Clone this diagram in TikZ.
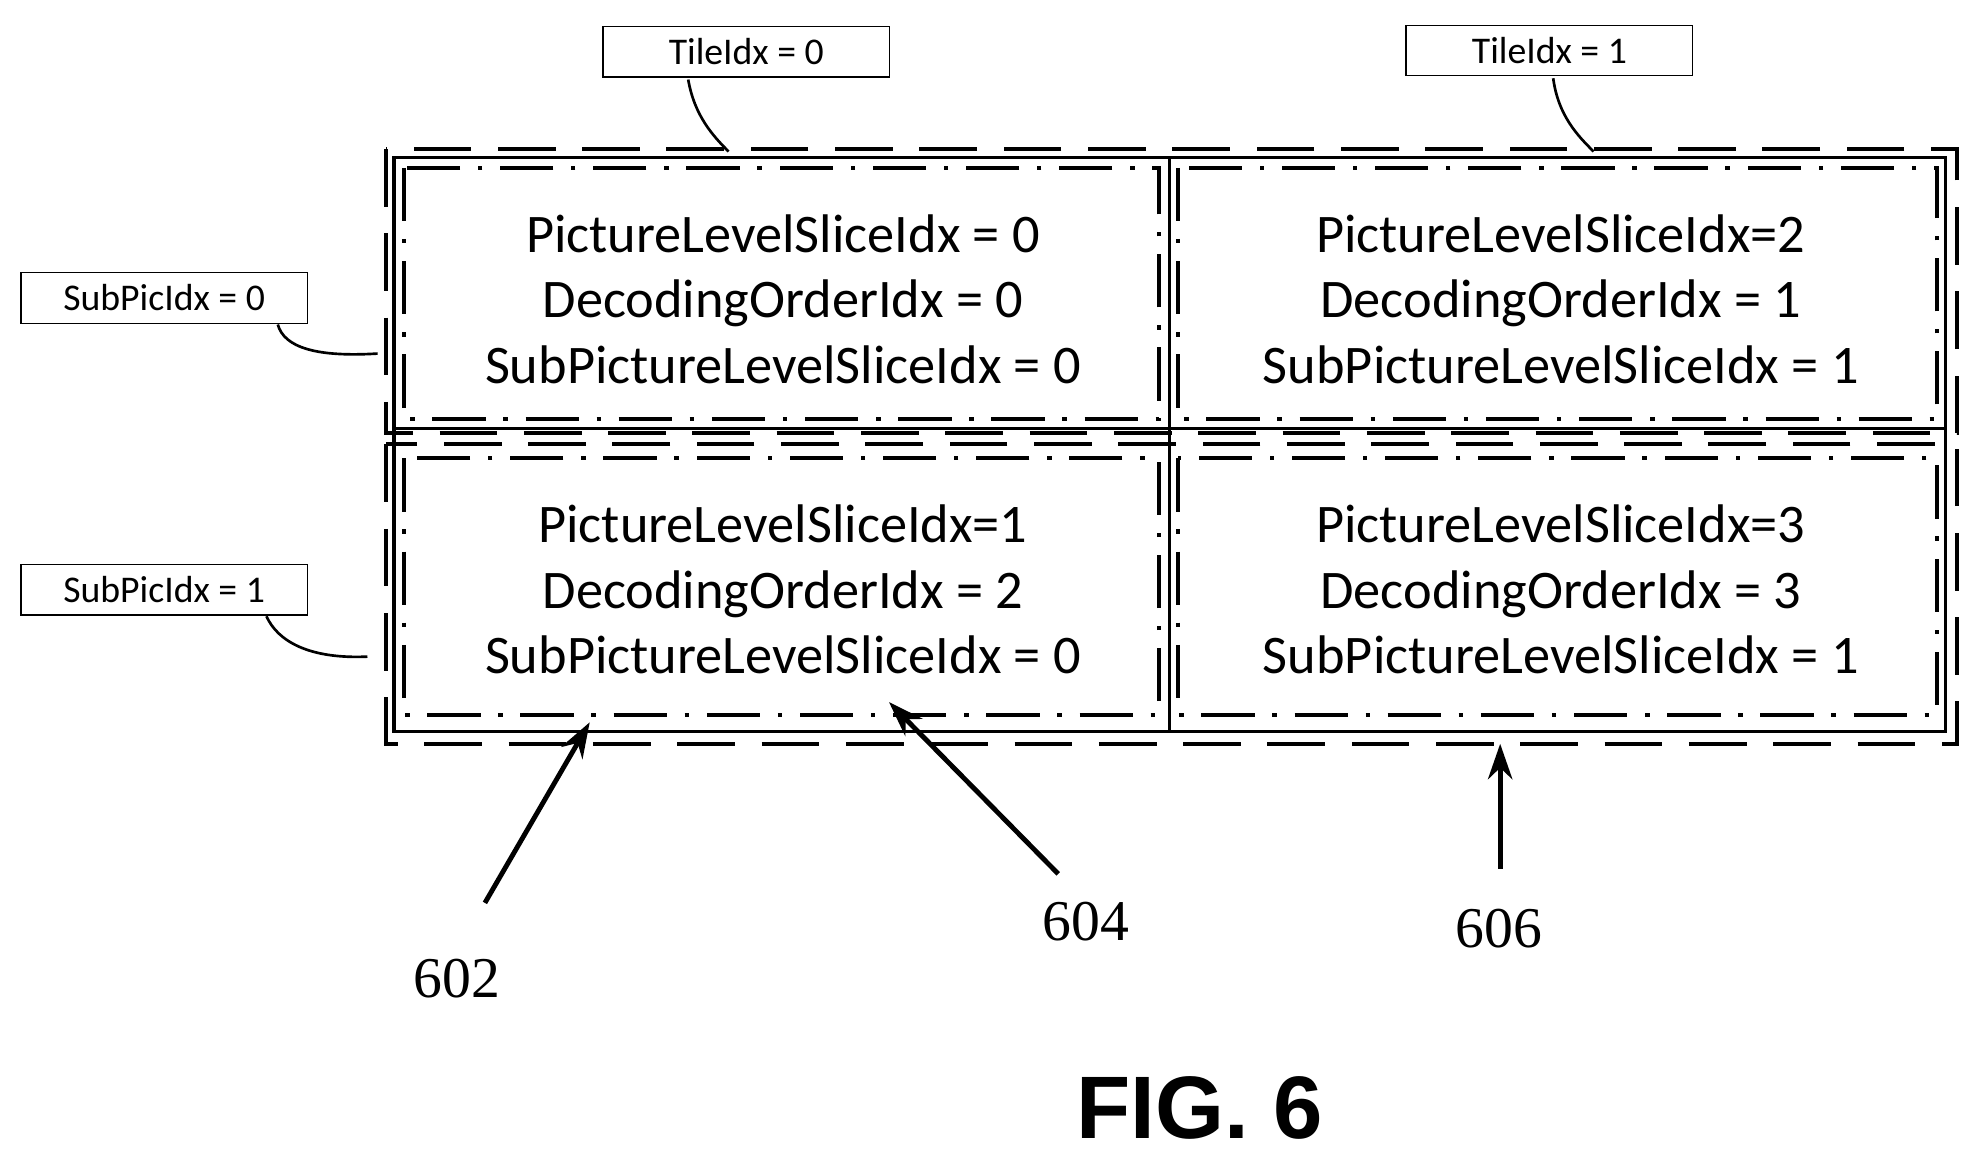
\documentclass[tikz,border=0pt]{standalone}
\usetikzlibrary{arrows.meta}
\usepackage{fontspec}
\setmainfont{Carlito}
\newfontfamily\numfont{Liberation Serif}
\newfontfamily\figfont{Liberation Sans}
\begin{document}
\begin{tikzpicture}[x=0.02cm,y=-0.02cm,
  sp/.style={line width=1.8pt,dash pattern=on 26pt off 12pt},
  sl/.style={line width=1.8pt,dash pattern=on 24pt off 8pt on 2pt off 8pt},
  tl/.style={line width=1.4pt},
  lbl/.style={draw,line width=0.6pt,minimum width=227*0.02cm,minimum height=40*0.02cm,font=\fontsize{17}{20}\selectfont,inner sep=0pt},
  txt/.style={align=center,font=\fontsize{24.5}{29.5}\selectfont},
  num/.style={font=\numfont\fontsize{26}{30}\selectfont},
  arr/.style={line width=2.2pt,-{Stealth[length=16pt,width=11pt]}},
  lead/.style={line width=1.2pt}]
\useasboundingbox (0,0) rectangle (1568,916);
% subpictures
\draw[sp] (306,118) rectangle (1550,343);
\draw[sp] (306,352) rectangle (1550,589);
% tiles
\draw[tl] (312,125) rectangle (1541,579);
\draw[tl] (926,125) -- (926,579);
\draw[tl] (312,339) -- (1541,339);
% slices
\draw[sl] (320,133) rectangle (918,332);
\draw[sl] (933,133) rectangle (1534,332);
\draw[sl] (320,363) rectangle (918,566);
\draw[sl] (933,363) rectangle (1534,566);
\node[txt] (s0) at (620,237) {PictureLevelSliceIdx = 0\\DecodingOrderIdx = 0\\SubPictureLevelSliceIdx = 0};
\node[txt] (s2) at (1236,237) {PictureLevelSliceIdx=2\\DecodingOrderIdx = 1\\SubPictureLevelSliceIdx = 1};
\node[txt] (s1) at (620,467) {PictureLevelSliceIdx=1\\DecodingOrderIdx = 2\\SubPictureLevelSliceIdx = 0};
\node[txt] (s3) at (1236,467) {PictureLevelSliceIdx=3\\DecodingOrderIdx = 3\\SubPictureLevelSliceIdx = 1};
% labels
\node[lbl] (t0) at (591,41) {TileIdx = 0};
\node[lbl] (t1) at (1227,40) {TileIdx = 1};
\node[lbl] (p0) at (130,236) {SubPicIdx = 0};
\node[lbl] (p1) at (130,467) {SubPicIdx = 1};
\coordinate (t0e) at (577,120);
\coordinate (t1e) at (1262,120);
\coordinate (p0e) at (299,280);
\coordinate (p1e) at (291,520);
\draw[lead] (545,63) .. controls (550,92) and (565,108) .. (t0e);
\draw[lead] (1230,62) .. controls (1234,92) and (1250,108) .. (t1e);
\draw[lead] (220,257) .. controls (225,275) and (250,283) .. (p0e);
\draw[lead] (211,488) .. controls (220,508) and (245,522) .. (p1e);
% arrows
\node[num] (n602) at (362,775) {602};
\node[num] (n604) at (860,730) {604};
\node[num] (n606) at (1187,735) {606};
\coordinate (a602) at (467,572);
\coordinate (a604) at (704,556);
\coordinate (a606) at (1188,589);
\draw[arr] (384,715) -- (a602);
\draw[arr] (838,692) -- (a604);
\draw[arr] (1188,688) -- (a606);
\node[font=\figfont\bfseries\fontsize{40}{44}\selectfont] (fig) at (950,877) {FIG. 6};
\end{tikzpicture}
\end{document}
